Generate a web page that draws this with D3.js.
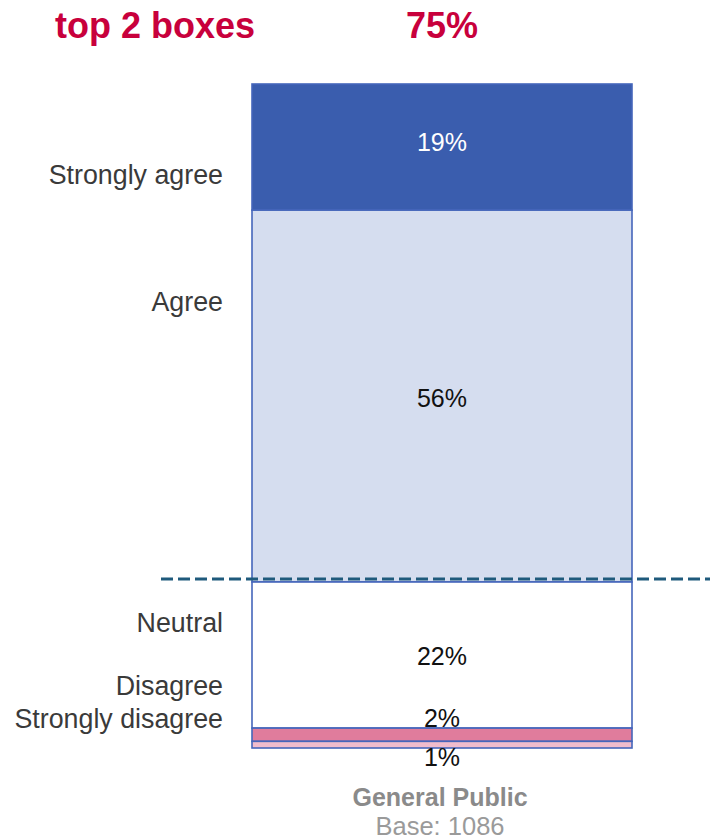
<!DOCTYPE html>
<html><head><meta charset="utf-8">
<script src="https://cdn.jsdelivr.net/npm/d3@7"></script>
<style>html,body{margin:0;padding:0;background:#fff;}svg{display:block;font-family:"Liberation Sans",Arial,sans-serif;}</style>
</head><body>
<svg id="c" width="710" height="839"></svg>
<script>
const categories = ["Strongly agree","Agree","Neutral","Disagree","Strongly disagree"];
const values = [19, 56, 22, 2, 1];
const valueLabels = ["19%","56%","22%","2%","1%"];
const groups = ["General Public"];
const baseLabel = "Base: 1086";
const topTitle = "top 2 boxes";
const topValue = "75%";

const colors = ["#3a5dae","#d5ddef","#ffffff","#e07c9c","#f0bccd"];
const labelDy = [28, -94, -32, -49, -26];
const valueDy = [-5, 2, 1, -17, 12];
const valueColors = ["#ffffff","#111111","#111111","#111111","#111111"];

const svg = d3.select("#c");
const x = d3.scaleBand().domain(groups).range([252, 632]).padding(0);
const y = d3.scaleLinear().domain([0, 100]).range([84, 748]);

let cum = 0;
const segs = values.map((v,i)=>{const s={cat:categories[i],v,i,y0:cum,y1:cum+v};cum+=v;return s;});

svg.selectAll("rect.seg").data(segs).join("rect")
  .attr("class","seg")
  .attr("x", x("General Public"))
  .attr("width", x.bandwidth())
  .attr("y", d=>y(d.y0))
  .attr("height", d=>y(d.y1)-y(d.y0))
  .attr("fill", d=>colors[d.i])
  .attr("stroke", "#4566bb")
  .attr("stroke-width", 1.6);

// value labels
svg.selectAll("text.val").data(segs).join("text")
  .attr("class","val")
  .attr("x", x("General Public")+x.bandwidth()/2)
  .attr("y", d=>(y(d.y0)+y(d.y1))/2 + valueDy[d.i])
  .attr("text-anchor","middle")
  .attr("dominant-baseline","central")
  .attr("font-size", 25)
  .attr("fill", d=>valueColors[d.i])
  .text(d=>valueLabels[d.i]);

// category labels
svg.selectAll("text.cat").data(segs).join("text")
  .attr("class","cat")
  .attr("x", 223)
  .attr("y", d=>(y(d.y0)+y(d.y1))/2 + labelDy[d.i])
  .attr("text-anchor","end")
  .attr("dominant-baseline","central")
  .attr("font-size", 26.8)
  .attr("fill", "#3a3a3a")
  .text(d=>d.cat);

// top 2 boxes dashed line
const top2 = values[0]+values[1];
svg.append("line")
  .attr("x1", 161).attr("x2", 710)
  .attr("y1", y(top2)-3).attr("y2", y(top2)-3)
  .attr("stroke", "#1f5a7c")
  .attr("stroke-width", 3)
  .attr("stroke-dasharray", "12,5");

// title
svg.append("text").attr("x", 55).attr("y", 38)
  .attr("font-size", 36).attr("font-weight","bold").attr("fill","#c8003c")
  .text(topTitle);
svg.append("text").attr("x", x("General Public")+x.bandwidth()/2).attr("y", 38)
  .attr("text-anchor","middle")
  .attr("font-size", 36).attr("font-weight","bold").attr("fill","#c8003c")
  .text(topValue);

// x axis label
svg.append("text").attr("x", x("General Public")+x.bandwidth()/2 - 2).attr("y", 806)
  .attr("text-anchor","middle").attr("font-size", 25).attr("font-weight","bold").attr("fill","#8a8a8a")
  .text(groups[0]);
svg.append("text").attr("x", x("General Public")+x.bandwidth()/2 - 2).attr("y", 835)
  .attr("text-anchor","middle").attr("font-size", 25.5).attr("fill","#9a9a9a")
  .text(baseLabel);
</script>
</body></html>
